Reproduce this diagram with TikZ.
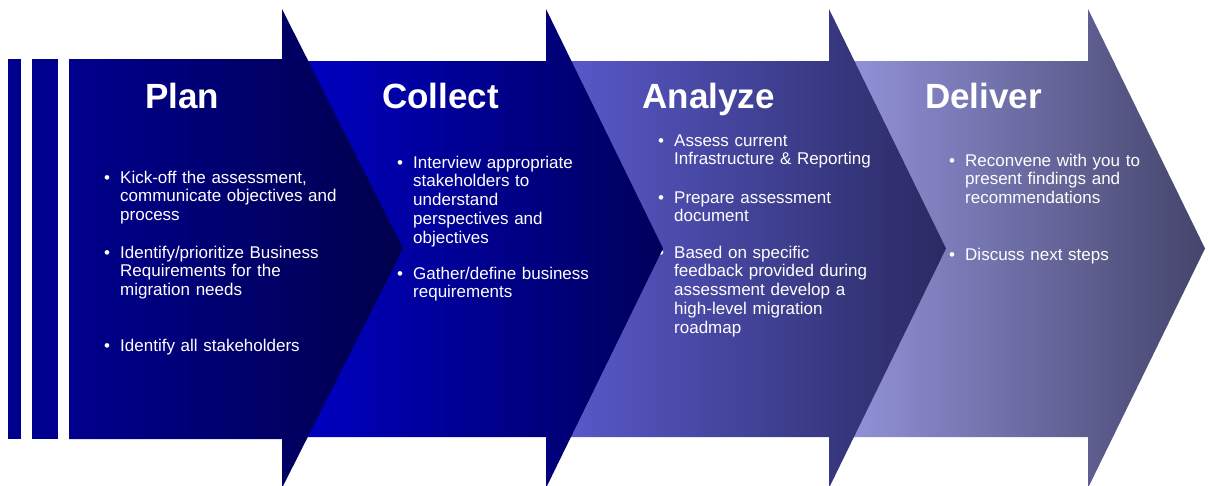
\documentclass[tikz,border=0pt]{standalone}
\usepackage{fontspec}
\setmainfont{Liberation Sans}
\definecolor{planA}{HTML}{00008E}
\definecolor{planB}{HTML}{00004C}
\definecolor{collA}{HTML}{0000C8}
\definecolor{collB}{HTML}{00005A}
\definecolor{anaA}{HTML}{5B5BCF}
\definecolor{anaB}{HTML}{2A2A62}
\definecolor{delA}{HTML}{9696DE}
\definecolor{delB}{HTML}{44446C}
\definecolor{barcol}{HTML}{00008E}
\newcommand\bitm{\leavevmode\llap{\makebox[16pt][l]{•}}}
\begin{document}
\begin{tikzpicture}[x=1pt,y=-1pt,
  phasetitle/.style={font=\fontsize{35}{40}\selectfont\bfseries, text=white, anchor=base, inner sep=0pt},
  bultext/.style={font=\fontsize{17}{18.9}\selectfont, text=white, anchor=base west, inner sep=0pt, text width=300pt, align=left},
]
\useasboundingbox (0,0) rectangle (1209,485);

% Deliver
\path[left color=delA, right color=delB] (829,61) -- (1088,61) -- (1088,9) -- (1205,248.5) -- (1088,488) -- (1088,437) -- (829,437) -- cycle;
\node[phasetitle] (tdel) at (983.5,108) {Deliver};
\node[bultext] (d1) at (965,166) {\bitm Reconvene with you to\\present findings and\\recommendations};
\node[bultext] (d2) at (965,260) {\bitm Discuss next steps};

% Analyze
\path[left color=anaA, right color=anaB] (546,61) -- (829,61) -- (829,9) -- (946,248.5) -- (829,488) -- (829,437) -- (546,437) -- cycle;
\node[phasetitle] (tana) at (708.5,108) {Analyze};
\node[bultext] (a1) at (674,146) {\bitm Assess current\\Infrastructure \& Reporting};
\node[bultext] (a2) at (674,203) {\bitm Prepare assessment\\document};
\node[bultext] (a3) at (674,258) {\bitm Based on specific\\feedback provided during\\assessment develop a\\high-level migration\\roadmap};

% Collect
\path[left color=collA, right color=collB] (282,61) -- (546,61) -- (546,9) -- (663,248.5) -- (546,488) -- (546,437) -- (282,437) -- cycle;
\node[phasetitle] (tcol) at (440.5,108) {Collect};
\node[bultext] (c1) at (413,168) {\bitm Interview appropriate\\stakeholders to\\understand\\perspectives and\\objectives};
\node[bultext] (c2) at (413,279) {\bitm Gather/define business\\requirements};

% Plan
\path[left color=planA, right color=planB] (69,59) -- (282,59) -- (282,9) -- (403,248.5) -- (282,488) -- (282,439) -- (69,439) -- cycle;
\node[phasetitle] (tplan) at (182,108) {Plan};
\node[bultext] (p1) at (120,183) {\bitm Kick-off the assessment,\\communicate objectives and\\process};
\node[bultext] (p2) at (120,258) {\bitm Identify/prioritize Business\\Requirements for the\\migration needs};
\node[bultext] (p3) at (120,351) {\bitm Identify all stakeholders};

% bars
\fill[barcol] (8,59) rectangle (21,439);
\fill[barcol] (32,59) rectangle (58,439);
\end{tikzpicture}
\end{document}
